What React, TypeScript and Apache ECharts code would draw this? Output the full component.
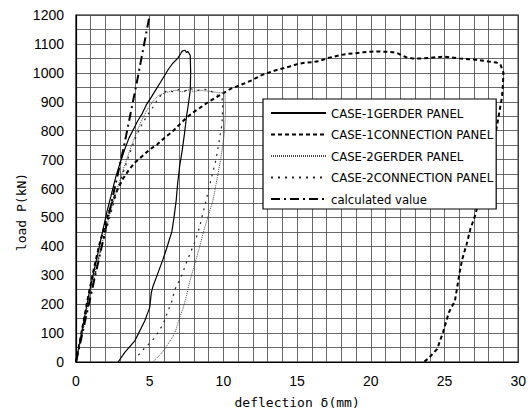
import React, { useEffect, useRef } from "react";
import * as echarts from "echarts";

// ---- data (deflection mm, load kN) ----
const xTicks = [0, 5, 10, 15, 20, 25, 30];
const yTicks = [0, 100, 200, 300, 400, 500, 600, 700, 800, 900, 1000, 1100, 1200];

const seriesNames = [
  "CASE-1GERDER PANEL",
  "CASE-1CONNECTION PANEL",
  "CASE-2GERDER PANEL",
  "CASE-2CONNECTION PANEL",
  "calculated value",
];

const case1Girder: number[][] = [
  [0, 0], [0.3, 80], [0.6, 160], [0.9, 240], [1.2, 310], [1.5, 380], [1.8, 450], [2.1, 520],
  [2.4, 580], [2.7, 640], [3.0, 690], [3.3, 735], [3.6, 775], [3.9, 805], [4.2, 835], [4.5, 860],
  [4.8, 892], [5.1, 915], [5.4, 940], [5.7, 965], [6.0, 990], [6.3, 1015], [6.6, 1035], [6.9, 1050],
  [7.1, 1066], [7.2, 1075], [7.4, 1078], [7.5, 1070], [7.6, 1074], [7.75, 1060], [7.78, 1000],
  [7.75, 940], [7.65, 900], [7.5, 850], [7.36, 790], [7.2, 730], [7.03, 676], [6.9, 620], [6.8, 560],
  [6.65, 500], [6.5, 450], [6.13, 390], [5.9, 355], [5.57, 309], [5.23, 263], [5.11, 240], [5.0, 188],
  [4.66, 142], [3.99, 73], [3.31, 33], [2.86, 0],
];

const case1Connection: number[][] = [
  [0, 0], [0.4, 110], [0.8, 220], [1.2, 320], [1.6, 410], [2.0, 480], [2.4, 545], [2.8, 595],
  [3.2, 635], [3.6, 665], [4.0, 690], [4.5, 712], [5.0, 735], [5.5, 752], [6.0, 775], [6.5, 795],
  [7.0, 820], [7.5, 845], [8.0, 865], [8.5, 882], [9.0, 900], [9.5, 915], [10.0, 930], [10.5, 945],
  [11.0, 955], [11.5, 965], [12.0, 976], [12.5, 990], [13.0, 1000], [13.5, 1008], [14.0, 1015],
  [14.5, 1022], [15.0, 1030], [15.5, 1035], [16.0, 1037], [16.5, 1040], [17.0, 1050], [17.5, 1056],
  [18.0, 1062], [18.5, 1066], [19.0, 1068], [19.5, 1071], [20.0, 1073], [20.5, 1074], [21.0, 1073],
  [21.5, 1071], [21.8, 1068], [22.1, 1060], [22.4, 1054], [22.8, 1050], [23.5, 1050], [24.0, 1052],
  [24.5, 1054], [25.0, 1056], [25.5, 1053], [26.0, 1050], [26.6, 1047], [27.0, 1046], [27.5, 1043],
  [28.0, 1039], [28.5, 1036], [28.8, 1028], [29.0, 1000], [28.95, 950], [28.9, 917], [28.5, 800],
  [28.0, 700], [27.5, 600], [27.1, 510], [26.75, 459], [26.5, 407], [26.2, 355], [26.0, 303],
  [25.85, 255], [25.7, 210], [25.3, 172], [24.9, 103], [24.5, 45], [23.9, 12], [23.6, 0],
];

const case2Girder: number[][] = [
  [0, 0], [0.4, 100], [0.8, 200], [1.2, 290], [1.6, 380], [2.0, 455], [2.4, 530], [2.8, 600],
  [3.2, 665], [3.6, 725], [4.0, 780], [4.4, 830], [4.8, 870], [5.2, 900], [5.6, 922], [6.0, 930],
  [6.4, 936], [6.8, 940], [7.2, 934], [7.6, 941], [8.0, 935], [8.4, 940], [8.8, 937], [9.2, 935],
  [9.6, 932], [10.1, 930], [10.15, 870], [10.07, 793], [9.9, 730], [9.73, 676], [9.5, 615],
  [9.3, 560], [9.0, 510], [8.7, 460], [8.5, 420], [8.15, 355], [7.95, 320], [7.7, 276], [7.5, 230],
  [7.25, 183], [7.0, 150], [6.8, 114], [6.6, 90], [6.24, 62], [5.8, 30], [5.2, 0],
];

const case2Connection: number[][] = [
  [0, 0], [0.4, 95], [0.8, 190], [1.2, 280], [1.6, 370], [2.0, 445], [2.4, 520], [2.8, 590],
  [3.2, 655], [3.6, 715], [4.0, 770], [4.4, 815], [4.8, 850], [5.2, 880], [5.5, 905], [5.8, 925],
  [6.2, 940], [6.6, 934], [7.0, 943], [7.4, 937], [7.8, 945], [8.2, 939], [8.6, 943], [9.05, 941],
  [9.5, 925], [9.9, 917], [9.95, 880], [9.9, 820], [9.7, 760], [9.5, 700], [9.2, 640], [8.83, 560],
  [8.4, 470], [8.1, 420], [7.7, 370], [7.5, 345], [7.25, 310], [7.0, 280], [6.7, 250], [6.5, 210],
  [6.2, 170], [5.9, 130], [5.6, 105], [5.2, 75], [4.6, 45], [4.0, 10],
];

const calculated: number[][] = [
  [0, 0], [1, 229], [2, 458], [3.25, 745], [4.1, 960], [5.0, 1200],
];

const seriesData = [case1Girder, case1Connection, case2Girder, case2Connection, calculated];

const lineStyles = [
  { color: "#000", width: 1.2, type: "solid" },
  { color: "#000", width: 2, type: [4, 3] },
  { color: "#444", width: 1, type: [1, 1] },
  { color: "#222", width: 1.2, type: [2, 5] },
  { color: "#000", width: 2, type: [9, 4, 2, 4] },
];

export default function App() {
  const ref = useRef<HTMLDivElement>(null);
  useEffect(() => {
    document.body.style.margin = "0";
    const chart = echarts.init(ref.current!, undefined, { renderer: "svg" });
    const labelFont = { color: "#000", fontFamily: "Liberation Sans, Arial, sans-serif", fontSize: 14 };
    chart.setOption({
      animation: false,
      backgroundColor: "#fff",
      grid: { left: 76, right: 9, top: 15, bottom: 51, show: true, borderColor: "#000", borderWidth: 1.2 },
      xAxis: {
        type: "value",
        min: 0,
        max: 30,
        interval: 1,
        axisLine: { lineStyle: { color: "#000", width: 1.2 } },
        axisTick: { show: false },
        axisLabel: {
          ...labelFont,
          margin: 12,
          formatter: (v: number) => (xTicks.includes(Math.round(v)) && Math.abs(v - Math.round(v)) < 1e-6 ? String(Math.round(v)) : ""),
        },
        splitLine: { show: true, lineStyle: { color: "#444", width: 0.8 } },
        name: "deflection δ(mm)",
        nameLocation: "middle",
        nameGap: 34,
        nameTextStyle: { color: "#000", fontFamily: "DejaVu Sans Mono, monospace", fontSize: 13 },
      },
      yAxis: {
        type: "value",
        min: 0,
        max: 1200,
        interval: 50,
        axisLine: { show: true, lineStyle: { color: "#000", width: 1.2 } },
        axisTick: { show: false },
        axisLabel: {
          ...labelFont,
          margin: 12,
          formatter: (v: number) => (yTicks.includes(Math.round(v)) ? String(Math.round(v)) : ""),
        },
        splitLine: { show: true, lineStyle: { color: "#444", width: 0.8 } },
      },
      legend: {
        orient: "vertical",
        left: 263,
        top: 99,
        padding: [7, 3, 3, 7],
        itemWidth: 55,
        itemHeight: 14,
        itemGap: 7.5,
        borderColor: "#000",
        borderWidth: 1.2,
        backgroundColor: "#fff",
        itemStyle: { opacity: 0 },
        textStyle: {
          color: "#000",
          fontFamily: "'Liberation Sans Narrow', 'DejaVu Sans Condensed', 'DejaVu Sans Mono', monospace",
          fontSize: 13,
          lineHeight: 14,
        },
        data: seriesNames,
      },
      graphic: [
        {
          type: "text",
          x: 21,
          y: 212,
          rotation: Math.PI / 2,
          style: {
            text: "load P(kN)",
            fill: "#000",
            font: "13px 'DejaVu Sans Mono', monospace",
            textAlign: "center",
            textVerticalAlign: "middle",
          },
        },
      ],
      series: seriesNames.map((name, i) => ({
        name,
        type: "line",
        data: seriesData[i],
        symbol: "none",
        showSymbol: false,
        clip: true,
        color: lineStyles[i].color,
        lineStyle: lineStyles[i],
      })),
    });
    return () => chart.dispose();
  }, []);
  return <div ref={ref} style={{ width: 529, height: 414 }} />;
}
